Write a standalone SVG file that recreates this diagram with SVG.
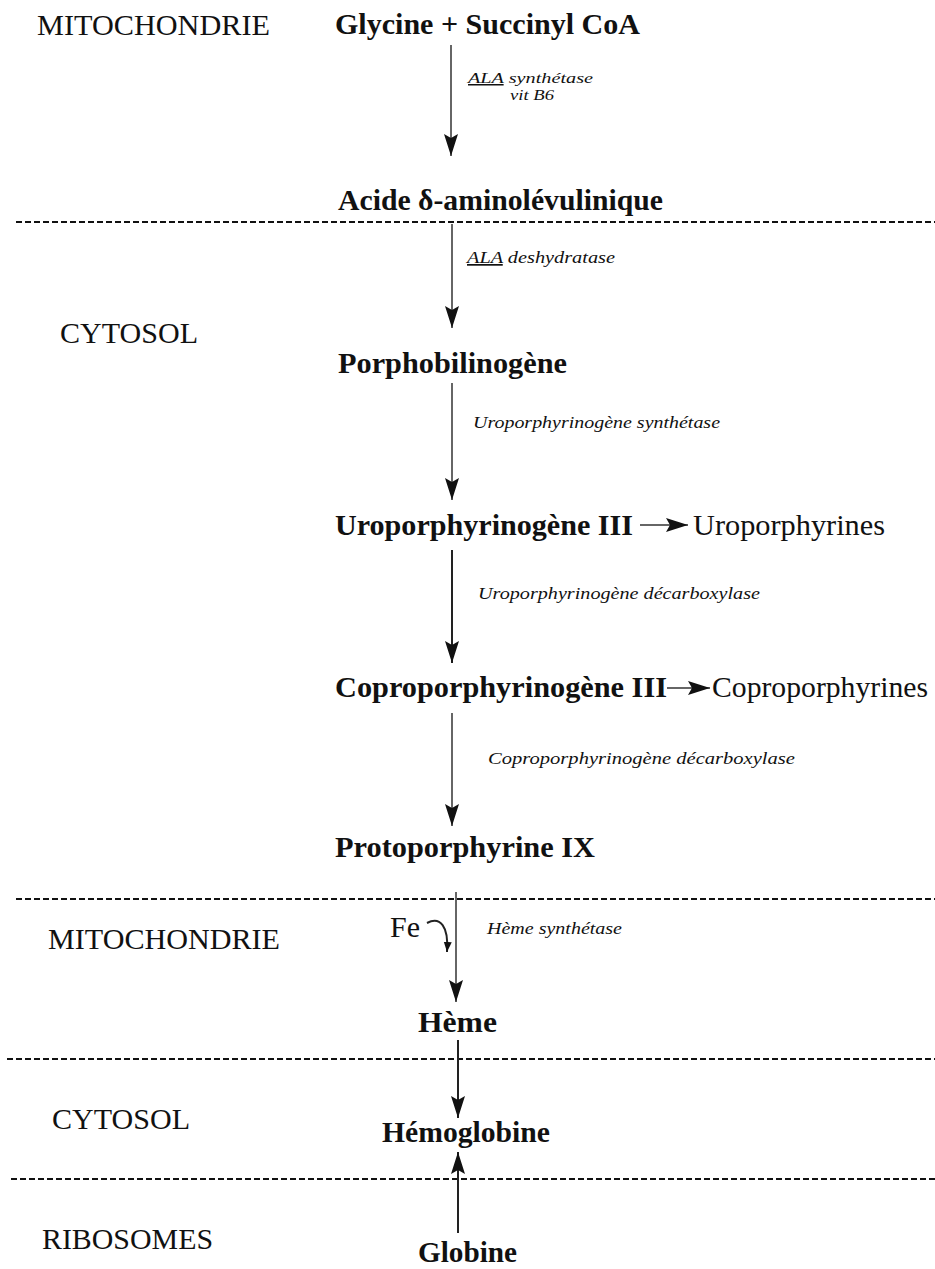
<svg xmlns="http://www.w3.org/2000/svg" width="935" height="1269" viewBox="0 0 935 1269">
<style>
text{font-family:"Liberation Serif","Times New Roman",serif;fill:#111}
.b{font-weight:bold;font-size:30px}
.r{font-size:30px}
.i{font-style:italic;font-size:17px}
.s{font-size:15px}
.u{text-decoration:underline}
.dash{stroke:#111;stroke-width:2;stroke-dasharray:6 3;fill:none}
.ar{stroke:#666;stroke-width:2;fill:none;marker-end:url(#ah)}
.ard{stroke:#222;stroke-width:2;fill:none;marker-end:url(#ah)}
</style>
<defs>
<marker id="ah" markerUnits="userSpaceOnUse" markerWidth="24" markerHeight="16" refX="22" refY="7" orient="auto">
<path d="M0,0 L22,7 L0,14 L4,7 Z" fill="#111"/>
</marker>
<marker id="ahs" markerUnits="userSpaceOnUse" markerWidth="12" markerHeight="10" refX="10" refY="4" orient="auto">
<path d="M0,0 L10,4 L0,8 Z" fill="#111"/>
</marker>
</defs>
<rect width="935" height="1269" fill="#fff"/>
<g id="separators">
<line class="dash" x1="16" y1="222" x2="935" y2="222"/>
<line class="dash" x1="16" y1="899" x2="935" y2="899"/>
<line class="dash" x1="7" y1="1059" x2="935" y2="1059"/>
<line class="dash" x1="11" y1="1179" x2="935" y2="1179"/>
</g>
<g id="compartments">
<text class="r" x="37" y="35" textLength="233" lengthAdjust="spacingAndGlyphs">MITOCHONDRIE</text>
<text class="r" x="60" y="343" textLength="138" lengthAdjust="spacingAndGlyphs">CYTOSOL</text>
<text class="r" x="48" y="949" textLength="232" lengthAdjust="spacingAndGlyphs">MITOCHONDRIE</text>
<text class="r" x="52" y="1129" textLength="138" lengthAdjust="spacingAndGlyphs">CYTOSOL</text>
<text class="r" x="42" y="1249" textLength="171" lengthAdjust="spacingAndGlyphs">RIBOSOMES</text>
</g>
<g id="n-glycine"><text class="b" x="335" y="34" textLength="305" lengthAdjust="spacingAndGlyphs">Glycine + Succinyl CoA</text></g>
<g id="n-ala"><text class="b" x="338" y="210" textLength="325" lengthAdjust="spacingAndGlyphs">Acide  δ-aminolévulinique</text></g>
<g id="n-pbg"><text class="b" x="338" y="373" textLength="229" lengthAdjust="spacingAndGlyphs">Porphobilinogène</text></g>
<g id="n-uro3"><text class="b" x="335" y="535" textLength="298" lengthAdjust="spacingAndGlyphs">Uroporphyrinogène III</text></g>
<g id="n-uro"><text class="r" x="693" y="535" textLength="192" lengthAdjust="spacingAndGlyphs">Uroporphyrines</text></g>
<g id="n-copro3"><text class="b" x="335" y="697" textLength="332" lengthAdjust="spacingAndGlyphs">Coproporphyrinogène III</text></g>
<g id="n-copro"><text class="r" x="712" y="697" textLength="216" lengthAdjust="spacingAndGlyphs">Coproporphyrines</text></g>
<g id="n-proto"><text class="b" x="335" y="857" textLength="260" lengthAdjust="spacingAndGlyphs">Protoporphyrine IX</text></g>
<g id="n-fe"><text class="r" x="390" y="937" textLength="30" lengthAdjust="spacingAndGlyphs">Fe</text></g>
<g id="n-heme"><text class="b" x="418" y="1032" textLength="79" lengthAdjust="spacingAndGlyphs">Hème</text></g>
<g id="n-hb"><text class="b" x="382" y="1142" textLength="168" lengthAdjust="spacingAndGlyphs">Hémoglobine</text></g>
<g id="n-globine"><text class="b" x="418" y="1262" textLength="99" lengthAdjust="spacingAndGlyphs">Globine</text></g>
<g id="enzymes">
<text class="i s" x="468" y="83" textLength="125" lengthAdjust="spacingAndGlyphs"><tspan class="u">ALA</tspan> synthétase</text>
<text class="i s" x="510" y="100" textLength="44" lengthAdjust="spacingAndGlyphs">vit B6</text>
<text class="i" x="467" y="263" textLength="148" lengthAdjust="spacingAndGlyphs"><tspan class="u">ALA</tspan> deshydratase</text>
<text class="i" x="473" y="428" textLength="247" lengthAdjust="spacingAndGlyphs">Uroporphyrinogène synthétase</text>
<text class="i" x="478" y="599" textLength="282" lengthAdjust="spacingAndGlyphs">Uroporphyrinogène décarboxylase</text>
<text class="i" x="488" y="764" textLength="307" lengthAdjust="spacingAndGlyphs">Coproporphyrinogène décarboxylase</text>
<text class="i" x="487" y="934" textLength="135" lengthAdjust="spacingAndGlyphs">Hème synthétase</text>
</g>
<g id="connectors">
<line class="ar" x1="451" y1="45" x2="451" y2="156"/>
<line class="ar" x1="452" y1="224" x2="452" y2="328"/>
<line class="ar" x1="452" y1="383" x2="452" y2="500"/>
<line class="ard" x1="452" y1="550" x2="452" y2="663"/>
<line class="ar" x1="452" y1="713" x2="452" y2="826"/>
<line class="ar" x1="456" y1="892" x2="456" y2="1002"/>
<line class="ard" x1="458" y1="1040" x2="458" y2="1118"/>
<line class="ard" x1="458" y1="1233" x2="458" y2="1152"/>
<line x1="640" y1="525" x2="688" y2="525" stroke="#666" stroke-width="2" marker-end="url(#ah)"/>
<line x1="667" y1="688" x2="710" y2="688" stroke="#666" stroke-width="2" marker-end="url(#ah)"/>
<path d="M427,923 C440,916 449,926 447,952" stroke="#222" stroke-width="2" fill="none" marker-end="url(#ahs)"/>
</g>
</svg>
